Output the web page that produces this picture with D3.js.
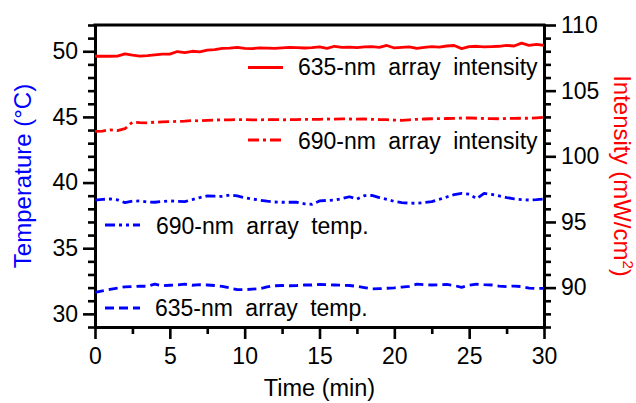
<!DOCTYPE html>
<html><head><meta charset="utf-8">
<script src="https://cdn.jsdelivr.net/npm/d3@7"></script>
<style>
body{margin:0;background:#fff}
svg{display:block}
text{font-family:"Liberation Sans",Arial,sans-serif}
</style>
</head><body>
<svg id="c" width="636" height="403"></svg>
<script>
// ---- data ----
const timeMin = [0,0.5,1,1.5,2,2.5,3,3.5,4,4.5,5,5.5,6,6.5,7,7.5,8,8.5,9,9.5,10,10.5,11,11.5,12,12.5,13,13.5,14,14.5,15,15.5,16,16.5,17,17.5,18,18.5,19,19.5,20,20.5,21,21.5,22,22.5,23,23.5,24,24.5,25,25.5,26,26.5,27,27.5,28,28.5,29,29.5,30];
const intensity635 = [107.62,107.62,107.62,107.63,107.80,107.70,107.63,107.66,107.72,107.78,107.78,107.98,107.90,108.00,107.95,108.08,108.12,108.22,108.24,108.30,108.22,108.20,108.26,108.24,108.22,108.26,108.30,108.28,108.25,108.28,108.33,108.22,108.38,108.30,108.32,108.27,108.33,108.35,108.30,108.44,108.25,108.30,108.33,108.22,108.30,108.36,108.32,108.40,108.44,108.20,108.36,108.38,108.33,108.36,108.38,108.45,108.40,108.62,108.45,108.52,108.45];
const intensity690 = [101.90,101.92,102.02,101.96,102.10,102.60,102.56,102.55,102.60,102.62,102.64,102.66,102.68,102.72,102.70,102.74,102.76,102.78,102.78,102.80,102.79,102.77,102.78,102.79,102.80,102.78,102.79,102.80,102.82,102.81,102.82,102.84,102.83,102.85,102.84,102.83,102.84,102.82,102.80,102.79,102.76,102.74,102.78,102.82,102.84,102.86,102.87,102.88,102.89,102.91,102.92,102.90,102.88,102.87,102.86,102.88,102.89,102.90,102.90,102.93,102.97];
const temp690 = [38.67,38.72,38.75,38.68,38.47,38.58,38.60,38.52,38.50,38.56,38.60,38.57,38.55,38.70,38.86,38.98,38.96,38.95,39.05,38.98,38.85,38.75,38.66,38.58,38.52,38.50,38.50,38.50,38.38,38.35,38.60,38.64,38.66,38.78,38.92,38.74,39.00,39.02,38.86,38.72,38.56,38.48,38.43,38.42,38.48,38.55,38.72,38.90,39.08,39.18,39.12,38.78,39.18,39.10,38.98,38.86,38.76,38.70,38.67,38.70,38.75];
const temp635 = [31.64,31.76,31.86,31.96,32.06,32.08,32.12,32.10,32.26,32.14,32.18,32.20,32.26,32.18,32.22,32.20,32.16,32.10,31.98,31.84,31.84,31.88,31.92,32.05,32.14,32.16,32.14,32.16,32.20,32.20,32.24,32.22,32.20,32.18,32.16,32.10,32.00,31.90,31.92,31.95,31.98,32.04,32.10,32.26,32.22,32.20,32.22,32.25,32.16,32.02,32.18,32.26,32.22,32.20,32.12,32.08,32.12,32.08,31.96,31.94,31.94];

const xTicks = [0,5,10,15,20,25,30];
const xMinor = [2.5,7.5,12.5,17.5,22.5,27.5];
const leftTicks = [30,35,40,45,50];
const rightTicks = [90,95,100,105,110];
const legendLabels = ["635-nm array intensity","690-nm array intensity","690-nm array temp.","635-nm array temp."];

// ---- layout ----
const svg = d3.select("#c");
const L = 95, R = 544, T = 25, B = 327;
const x = d3.scaleLinear().domain([0,30]).range([L,R]);
const yL = d3.scaleLinear().domain([29,52]).range([B,T]);
const yR = d3.scaleLinear().domain([87,110]).range([B,T]);
const FS = 23;

function styleAxis(g, labelSize){
  g.select(".domain").attr("stroke","#000").attr("stroke-width",3).attr("stroke-linecap","square");
  g.selectAll(".tick line").attr("stroke","#000").attr("stroke-width",2.6);
  g.selectAll(".tick text").attr("fill","#000").style("font-size",labelSize+"px")
    .style("font-family",'"Liberation Sans",Arial,sans-serif');
}

const leftMinor = d3.range(29,53).filter(v=>!leftTicks.includes(v));
const rightMinor = d3.range(87,111).filter(v=>!rightTicks.includes(v));

// minor ticks
svg.append("g").attr("transform",`translate(${L},0)`)
  .call(d3.axisLeft(yL).tickValues(leftMinor).tickSize(7).tickSizeOuter(0).tickFormat(""))
  .call(g=>{styleAxis(g,FS); g.select(".domain").remove();});
svg.append("g").attr("transform",`translate(${R},0)`)
  .call(d3.axisRight(yR).tickValues(rightMinor).tickSize(7).tickSizeOuter(0).tickFormat(""))
  .call(g=>{styleAxis(g,FS); g.select(".domain").remove();});
svg.append("g").attr("transform",`translate(0,${B})`)
  .call(d3.axisBottom(x).tickValues(xMinor).tickSize(7).tickSizeOuter(0).tickFormat(""))
  .call(g=>{styleAxis(g,FS); g.select(".domain").remove();});

// major axes
svg.append("g").attr("transform",`translate(${L},0)`)
  .call(d3.axisLeft(yL).tickValues(leftTicks).tickSize(12).tickSizeOuter(0).tickPadding(5))
  .call(g=>styleAxis(g,FS));
svg.append("g").attr("transform",`translate(${R},0)`)
  .call(d3.axisRight(yR).tickValues(rightTicks).tickSize(12).tickSizeOuter(0).tickPadding(5))
  .call(g=>styleAxis(g,FS));
svg.append("g").attr("transform",`translate(0,${B})`)
  .call(d3.axisBottom(x).tickValues(xTicks).tickSize(12).tickSizeOuter(0).tickPadding(9))
  .call(g=>styleAxis(g,FS));
// top frame
svg.append("line").attr("x1",L).attr("x2",R).attr("y1",T).attr("y2",T)
  .attr("stroke","#000").attr("stroke-width",3).attr("stroke-linecap","square");

// ---- series ----
const series = [
  {vals:intensity635, y:yR, color:"#ff0000", dash:null},
  {vals:intensity690, y:yR, color:"#ff0000", dash:"11,4,3,4"},
  {vals:temp690, y:yL, color:"#0000ff", dash:"10,4,3,4,3,4"},
  {vals:temp635, y:yL, color:"#0000ff", dash:"9,5"}
];
series.forEach(s=>{
  const line = d3.line().x((d,i)=>x(timeMin[i])).y(d=>s.y(d));
  svg.append("path").datum(s.vals).attr("d",line)
    .attr("fill","none").attr("stroke",s.color).attr("stroke-width",2.8)
    .attr("stroke-linejoin","round")
    .attr("stroke-dasharray",s.dash);
});

// ---- legend ----
const legendPos = [
  {x1:248,x2:283,ly:67.5,tx:298,ty:75},
  {x1:248,x2:283,ly:140,tx:298,ty:149},
  {x1:105,x2:140,ly:225,tx:156,ty:234},
  {x1:105,x2:140,ly:308,tx:155,ty:316}
];
legendPos.forEach((p,i)=>{
  const s = series[i];
  svg.append("line").attr("x1",p.x1).attr("x2",p.x2).attr("y1",p.ly).attr("y2",p.ly)
    .attr("stroke",s.color).attr("stroke-width",2.8).attr("stroke-dasharray",s.dash);
  svg.append("text").attr("x",p.tx).attr("y",p.ty).text(legendLabels[i])
    .style("font-size","23px").style("word-spacing","6px").attr("fill","#000");
});

// ---- axis titles ----
svg.append("text").attr("x",(L+R)/2).attr("y",396).attr("text-anchor","middle")
  .style("font-size","23.5px").attr("fill","#000").text("Time (min)");
svg.append("text").attr("transform",`translate(31,${(T+B)/2}) rotate(-90)`)
  .attr("text-anchor","middle").style("font-size","24px").attr("fill","#0000ff")
  .text("Temperature (°C)");
const rt = svg.append("text").attr("transform",`translate(614,${(T+B)/2}) rotate(90)`)
  .attr("text-anchor","middle").style("font-size","24px").attr("fill","#ff0000");
rt.append("tspan").text("Intensity (mW/cm");
rt.append("tspan").attr("dy",-9).style("font-size","15px").text("2");
rt.append("tspan").attr("dy",9).text(")");
</script>
</body></html>
